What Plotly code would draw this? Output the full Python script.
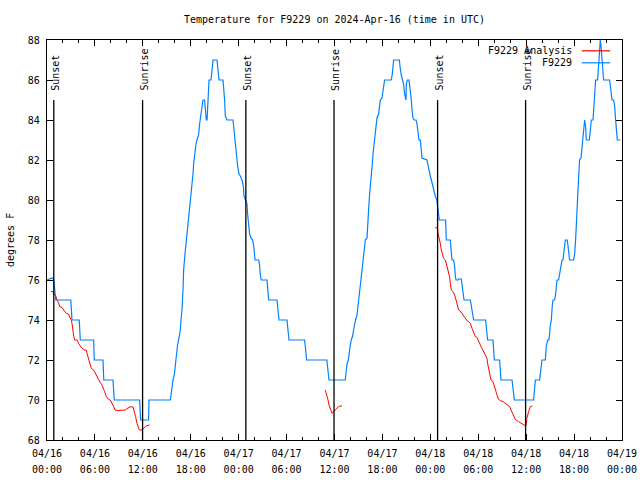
import datetime as dt
import plotly.graph_objects as go

# ---------------- data ----------------
title_text = "Temperature for F9229 on 2024-Apr-16 (time in UTC)"
start_time = dt.datetime(2024, 4, 16, 0, 0)
span_hours = 72

# observed station temperatures (hours after 04/16 00:00 UTC, deg F)
obs_hours = [
    0, 0.66, 0.85, 1.10, 2.98, 3.13, 4.04, 4.17, 5.84, 5.92,
    7.01, 7.11, 8.26, 8.43, 11.60, 11.72, 12.72, 12.77, 15.44, 15.60,
    15.78, 15.94, 16.07, 16.19, 16.35, 16.48, 16.69, 16.78, 16.90, 17.03,
    17.11, 17.28, 17.41, 17.53, 17.66, 17.78, 17.94, 18.03, 18.16, 18.28,
    18.36, 18.48, 18.66, 18.78, 18.98, 19.11, 19.28, 19.45, 19.53, 19.73,
    19.82, 19.95, 20.04, 20.16, 20.29, 20.54, 20.66, 20.79, 21.29, 21.36,
    21.54, 22.04, 22.11, 22.24, 22.33, 22.54, 23.29, 23.37, 23.49, 23.62,
    23.79, 23.87, 24.04, 24.21, 24.42, 24.58, 24.67, 24.87, 25.04, 25.12,
    25.24, 25.37, 25.54, 25.75, 25.87, 25.96, 26.05, 26.50, 26.62, 26.71,
    26.83, 27.55, 27.62, 27.75, 28.80, 28.88, 29.05, 30.05, 30.13, 30.30,
    32.26, 32.38, 32.51, 35.04, 35.14, 35.22, 35.31, 37.35, 37.44, 37.57,
    37.73, 37.85, 37.98, 38.10, 38.27, 38.39, 38.52, 38.64, 38.82, 38.94,
    39.07, 39.23, 39.36, 39.48, 39.64, 39.73, 39.86, 40.07, 40.15, 40.27,
    40.40, 40.48, 40.61, 40.73, 40.82, 40.95, 41.07, 41.20, 41.32, 41.52,
    41.65, 41.74, 41.95, 42.07, 42.27, 43.11, 43.24, 43.40, 44.12, 44.20,
    44.33, 44.53, 44.65, 44.78, 44.87, 44.95, 44.99, 45.12, 45.33, 45.41,
    45.49, 45.62, 45.71, 45.83, 45.99, 46.21, 46.33, 46.46, 46.58, 46.75,
    46.83, 46.96, 47.58, 47.71, 47.83, 48.00, 48.12, 48.25, 48.41, 48.62,
    48.81, 48.94, 49.04, 49.12, 49.91, 49.96, 50.00, 50.50, 50.59, 50.71,
    50.91, 51.04, 51.13, 51.22, 51.47, 51.54, 51.88, 51.97, 52.09, 52.22,
    53.01, 53.13, 53.29, 53.42, 54.92, 55.01, 55.17, 55.85, 55.92, 56.01,
    56.68, 56.76, 56.85, 58.23, 58.35, 58.52, 60.93, 61.02, 61.15, 61.68,
    61.86, 61.98, 62.40, 62.52, 62.69, 62.86, 63.02, 63.15, 63.27, 63.36,
    63.56, 63.69, 63.86, 64.06, 64.19, 64.36, 64.49, 64.61, 64.78, 64.90,
    65.15, 65.31, 65.44, 65.94, 66.07, 66.19, 66.28, 66.37, 66.49, 66.62,
    66.69, 66.87, 66.99, 67.12, 67.19, 67.32, 67.44, 67.53, 67.91, 68.03,
    68.16, 68.37, 68.45, 68.57, 68.70, 68.95, 69.07, 69.20, 69.28, 69.37,
    69.50, 69.62, 69.70, 70.45, 70.54, 70.66, 70.75, 70.95, 71.08, 71.20,
    71.33, 71.41, 71.79,
]
obs_temps = [
    76.0, 76.1, 76.0, 75.0, 75.0, 74.0, 74.0, 73.0, 73.0, 72.0,
    72.0, 71.0, 71.0, 70.0, 70.0, 69.0, 69.0, 70.0, 70.0, 70.5,
    71.0, 71.25, 71.75, 72.5, 72.75, 73.0, 73.5, 74.0, 74.5, 75.5,
    76.5, 77.3, 77.8, 78.3, 78.8, 79.3, 79.8, 80.3, 80.8, 81.3,
    81.8, 82.3, 82.8, 83.0, 83.25, 83.8, 84.3, 84.8, 85.0, 85.0,
    84.3, 84.0, 84.0, 85.5, 86.0, 86.0, 86.5, 87.0, 87.0, 86.75,
    86.0, 86.0, 85.7, 85.0, 84.2, 84.0, 84.0, 83.7, 83.0, 82.5,
    82.2, 81.7, 81.3, 81.2, 81.0, 80.7, 80.2, 80.0, 79.8, 79.3,
    78.8, 78.3, 78.1, 78.0, 77.75, 77.25, 77.0, 77.0, 76.75, 76.25,
    76.0, 76.0, 75.5, 75.0, 75.0, 74.5, 74.0, 74.0, 73.5, 73.0,
    73.0, 72.5, 72.0, 72.0, 71.7, 71.3, 71.0, 71.0, 71.3, 71.8,
    72.0, 72.5, 72.75, 73.0, 73.2, 73.5, 73.8, 74.0, 74.25, 74.7,
    75.2, 75.7, 76.2, 76.7, 77.2, 77.7, 78.0, 78.1, 78.5, 79.5,
    80.3, 80.8, 81.3, 81.8, 82.3, 82.8, 83.3, 83.8, 84.1, 84.3,
    84.7, 85.0, 85.1, 85.5, 86.0, 86.0, 86.3, 87.0, 87.0, 86.7,
    86.3, 86.0, 85.8, 85.3, 85.0, 85.0, 85.8, 86.0, 86.0, 85.75,
    85.5, 85.0, 84.5, 84.1, 84.0, 84.0, 83.8, 83.3, 83.0, 83.0,
    82.5, 82.1, 82.0, 81.8, 81.5, 81.2, 81.0, 80.7, 80.5, 80.2,
    80.0, 79.5, 79.3, 79.0, 79.0, 78.5, 78.0, 78.0, 77.7, 77.0,
    77.0, 76.7, 76.2, 76.0, 76.0, 76.05, 76.05, 75.75, 75.25, 75.0,
    75.0, 74.75, 74.3, 74.0, 74.0, 73.5, 73.0, 73.0, 72.5, 72.0,
    72.0, 71.5, 71.0, 71.0, 70.5, 70.0, 70.0, 70.7, 71.0, 71.0,
    71.7, 72.0, 72.0, 72.7, 73.0, 73.0, 73.7, 74.0, 74.7, 75.0,
    75.0, 75.3, 76.0, 76.0, 76.3, 76.7, 77.0, 77.0, 77.5, 78.0,
    78.0, 77.3, 77.0, 77.0, 77.3, 78.0, 78.5, 79.5, 80.5, 81.5,
    82.0, 82.1, 82.7, 83.2, 83.5, 84.0, 83.7, 83.0, 83.0, 83.5,
    84.0, 84.0, 84.5, 85.5, 86.0, 86.0, 87.0, 87.7, 88.0, 87.7,
    87.0, 86.3, 86.0, 86.0, 85.7, 85.3, 85.0, 85.0, 84.7, 84.0,
    83.5, 83.0, 83.0,
]

# analysis temperatures, three separate night-time segments
ana1_hours = [0.50, 0.75, 0.83, 0.95, 1.13, 1.25, 1.45, 1.58, 1.88, 2.08,
              2.29, 2.42, 2.67, 2.92, 3.04, 3.13, 3.21, 3.33, 3.46, 3.76,
              3.96, 4.17, 4.38, 4.67, 4.92, 5.01, 5.21, 5.42, 5.55, 5.84,
              6.05, 6.26, 6.46, 6.67, 6.89, 7.01, 7.21, 7.43, 7.71, 7.93,
              8.14, 8.34, 8.55, 8.77, 9.80, 10.02, 10.22, 10.52, 10.77, 10.93,
              11.09, 11.27, 11.43, 11.56, 11.90, 12.10, 12.31, 12.52, 12.85]
ana1_temps = [75.42, 75.42, 75.33, 75.25, 75.17, 75.0, 74.87, 74.67, 74.63, 74.5,
              74.4, 74.33, 74.3, 74.08, 74.0, 73.83, 73.5, 73.25, 73.0, 73.0,
              72.83, 72.7, 72.58, 72.5, 72.5, 72.33, 72.08, 71.83, 71.58, 71.5,
              71.33, 71.17, 71.0, 70.87, 70.75, 70.58, 70.42, 70.17, 70.03, 70.0,
              69.83, 69.67, 69.5, 69.47, 69.5, 69.57, 69.62, 69.67, 69.65, 69.45,
              69.17, 68.83, 68.6, 68.5, 68.5, 68.6, 68.67, 68.72, 68.75]
ana2_hours = [34.85, 35.06, 35.19, 35.31, 35.48, 35.69, 35.89, 36.10, 36.31, 36.51,
              36.73, 36.94]
ana2_temps = [70.5, 70.25, 70.0, 69.75, 69.5, 69.33, 69.42, 69.5, 69.58, 69.67,
              69.7, 69.7]
ana3_hours = [48.62, 48.91, 48.96, 49.12, 49.25, 49.37, 49.54, 49.66, 49.88, 50.00,
              50.09, 50.25, 50.41, 50.50, 50.63, 50.84, 51.04, 51.22, 51.34, 51.54,
              51.75, 51.97, 52.17, 52.59, 52.79, 53.01, 53.22, 53.42, 53.63, 53.84,
              54.04, 54.26, 54.47, 54.67, 54.88, 55.10, 55.17, 55.30, 55.42, 55.60,
              55.85, 56.01, 56.17, 56.35, 56.55, 56.76, 57.10, 57.39, 57.68, 57.93,
              58.10, 58.35, 58.64, 59.05, 59.39, 59.68, 59.93, 60.02, 60.09, 60.31,
              60.52, 60.77]
ana3_temps = [78.63, 78.58, 78.33, 78.08, 77.83, 77.5, 77.25, 77.08, 77.0, 76.83,
              76.67, 76.42, 76.17, 75.83, 75.5, 75.42, 75.25, 75.0, 74.75, 74.5,
              74.45, 74.33, 74.17, 73.97, 73.92, 73.83, 73.58, 73.33, 73.17, 73.13,
              72.92, 72.75, 72.58, 72.42, 72.33, 72.08, 71.83, 71.58, 71.33, 71.0,
              70.92, 70.67, 70.5, 70.25, 70.03, 69.97, 69.92, 69.83, 69.75, 69.67,
              69.5, 69.25, 69.03, 68.92, 68.83, 68.75, 68.7, 68.83, 69.08, 69.42,
              69.67, 69.7]

# sunrise / sunset markers
event_hours = [0.85, 11.97, 24.90, 35.94, 48.91, 59.93]
event_labels = ["Sunset", "Sunrise", "Sunset", "Sunrise", "Sunset", "Sunrise"]
event_line_top = 85.0
event_label_base = 85.35

y_min, y_max, y_step = 68, 88, 2
series_names = ["F9229 Analysis", "F9229"]
series_colors = ["#ff0000", "#0080ff"]

# ---------------- build ----------------
assert len(obs_hours) == len(obs_temps)


def to_time(h):
    return None if h is None else start_time + dt.timedelta(hours=h)


ana_hours = ana1_hours + [None] + ana2_hours + [None] + ana3_hours
ana_temps = ana1_temps + [None] + ana2_temps + [None] + ana3_temps

font_family = "DejaVu Sans Mono, Liberation Mono, monospace"
x_range = [start_time, start_time + dt.timedelta(hours=span_hours)]

fig = go.Figure()
fig.add_trace(go.Scatter(
    x=[to_time(h) for h in ana_hours], y=ana_temps, mode="lines",
    name=series_names[0], line=dict(color=series_colors[0], width=1),
    connectgaps=False, showlegend=False))
fig.add_trace(go.Scatter(
    x=[to_time(h) for h in obs_hours], y=obs_temps, mode="lines",
    name=series_names[1], line=dict(color=series_colors[1], width=1.2),
    showlegend=False))
# invisible helper trace so the second (time-of-day) label row is drawn
fig.add_trace(go.Scatter(x=x_range, y=[y_min, y_min], xaxis="x2", mode="lines",
                         line=dict(width=0), hoverinfo="skip", showlegend=False))

shapes = []
annotations = []
for h, lab in zip(event_hours, event_labels):
    t = to_time(h)
    shapes.append(dict(type="line", xref="x", yref="y", x0=t, x1=t,
                       y0=y_min, y1=event_line_top,
                       line=dict(color="black", width=1.3), layer="above"))
    annotations.append(dict(x=t, y=event_label_base, xref="x", yref="y",
                            text=lab, textangle=-90, showarrow=False,
                            xanchor="center", yanchor="bottom", xshift=1,
                            font=dict(family=font_family, size=10, color="black")))

# gnuplot-style key (text right-aligned, sample line to the right)
key_rows = [0.973, 0.943]
for name, col, ky in zip(series_names, series_colors, key_rows):
    annotations.append(dict(x=0.9165, y=ky, xref="paper", yref="paper", text=name,
                            showarrow=False, xanchor="right", yanchor="middle",
                            font=dict(family=font_family, size=10, color="black")))
    shapes.append(dict(type="line", xref="paper", yref="paper", x0=0.930, x1=0.9795,
                       y0=ky, y1=ky, line=dict(color=col, width=1.2)))

annotations.append(dict(x=0, y=0.5, xref="paper", yref="paper", text="degrees F",
                        textangle=-90, showarrow=False, xanchor="center",
                        yanchor="middle", xshift=-37,
                        font=dict(family=font_family, size=10, color="black")))

fig.update_layout(
    width=640, height=480,
    margin=dict(l=47, r=18, t=40, b=40, autoexpand=False),
    paper_bgcolor="white", plot_bgcolor="white",
    font=dict(family=font_family, size=10, color="black"),
    title=dict(text=title_text, x=(47 + 287.5) / 640, xanchor="center",
               y=1 - 19.5 / 480, yanchor="middle", yref="container",
               font=dict(family=font_family, size=10, color="black")),
    shapes=shapes, annotations=annotations,
    showlegend=False,
    xaxis=dict(
        type="date", range=x_range,
        tick0=start_time, dtick=6 * 3600 * 1000, tickformat="%m/%d",
        ticks="inside", ticklen=6, tickwidth=1, tickcolor="black",
        showline=True, linecolor="black", linewidth=1.2, mirror="ticks",
        showgrid=False, zeroline=False, ticklabelstandoff=4,
        minor=dict(dtick=2 * 3600 * 1000, ticks="inside", ticklen=3,
                   tickcolor="black", showgrid=False),
        tickfont=dict(family=font_family, size=10, color="black"),
    ),
    xaxis2=dict(
        type="date", range=x_range, overlaying="x", side="bottom", anchor="y",
        tick0=start_time, dtick=6 * 3600 * 1000, tickformat="%H:%M",
        ticks="", showline=False, showgrid=False, zeroline=False,
        ticklabelstandoff=22,
        tickfont=dict(family=font_family, size=10, color="black"),
    ),
    yaxis=dict(
        range=[y_min, y_max], tick0=y_min, dtick=y_step,
        ticks="inside", ticklen=6, tickwidth=1, tickcolor="black",
        showline=True, linecolor="black", linewidth=1.2, mirror="ticks",
        showgrid=False, zeroline=False, ticklabelstandoff=4,
        tickfont=dict(family=font_family, size=10, color="black"),
    ),
)

fig.write_html("out.html")
